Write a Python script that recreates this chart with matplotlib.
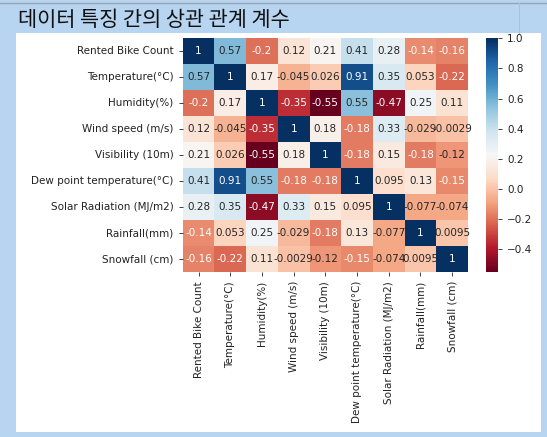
import numpy as np
import pandas as pd
import matplotlib
matplotlib.use("Agg")
import matplotlib.pyplot as plt
import matplotlib.patches as mpatches
from matplotlib.lines import Line2D
import seaborn as sns

# Feature names of the bike-sharing dataset
features = [
    "Rented Bike Count",
    "Temperature(°C)",
    "Humidity(%)",
    "Wind speed (m/s)",
    "Visibility (10m)",
    "Dew point temperature(°C)",
    "Solar Radiation (MJ/m2)",
    "Rainfall(mm)",
    "Snowfall (cm)",
]

# Pearson correlation coefficients, one row per feature
rented_bike_count = [1, 0.57, -0.2, 0.12, 0.21, 0.41, 0.28, -0.14, -0.16]
temperature = [0.57, 1, 0.17, -0.045, 0.026, 0.91, 0.35, 0.053, -0.22]
humidity = [-0.2, 0.17, 1, -0.35, -0.55, 0.55, -0.47, 0.25, 0.11]
wind_speed = [0.12, -0.045, -0.35, 1, 0.18, -0.18, 0.33, -0.029, -0.0029]
visibility = [0.21, 0.026, -0.55, 0.18, 1, -0.18, 0.15, -0.18, -0.12]
dew_point = [0.41, 0.91, 0.55, -0.18, -0.18, 1, 0.095, 0.13, -0.15]
solar_radiation = [0.28, 0.35, -0.47, 0.33, 0.15, 0.095, 1, -0.077, -0.074]
rainfall = [-0.14, 0.053, 0.25, -0.029, -0.18, 0.13, -0.077, 1, 0.0095]
snowfall = [-0.16, -0.22, 0.11, -0.0029, -0.12, -0.15, -0.074, 0.0095, 1]

title_text = "데이터 특징 간의 상관 관계 계수"

corr = pd.DataFrame(
    [rented_bike_count, temperature, humidity, wind_speed, visibility,
     dew_point, solar_radiation, rainfall, snowfall],
    index=features, columns=features,
)

W, H = 547, 437
panel_blue = "#b7d4f1"

fig = plt.figure(figsize=(W / 100, H / 100), dpi=100, facecolor=panel_blue)

# White content panel inside the blue frame (kept behind the axes)
fig.patches.append(mpatches.Rectangle(
    (16 / W, 1 - 432 / H), (541 - 16) / W, (432 - 33) / H,
    transform=fig.transFigure, facecolor="white", edgecolor="none", zorder=-5))
# Thin grey rule along the top and a faint divider in the title bar
fig.lines.append(Line2D([0, 1], [1 - 2.5 / H, 1 - 2.5 / H], transform=fig.transFigure,
                        color="#9aa4ae", linewidth=1.0, zorder=-4))
fig.lines.append(Line2D([519 / W, 519 / W], [1 - 3 / H, 1 - 33 / H], transform=fig.transFigure,
                        color="#a9c3dc", linewidth=0.8, zorder=-4))

fig.text(18 / W, 1 - 20 / H, title_text, fontsize=15, family=["Noto Sans CJK KR", "DejaVu Sans"],
         va="center", ha="left", color="#111111")

ax = fig.add_axes([182.7 / W, 1 - 272 / H, (468 - 182.7) / W, (272 - 38.3) / H])
cax = fig.add_axes([486 / W, 1 - 272 / H, 12 / W, (272 - 38.3) / H])

sns.heatmap(corr, annot=True, cmap="RdBu", ax=ax, cbar_ax=cax,
            annot_kws={"fontsize": 7.5})

ax.tick_params(axis="both", labelsize=7.5, colors="#222222", length=3, width=0.6)
ax.tick_params(axis="x", labelrotation=90)
ax.tick_params(axis="y", labelrotation=0)
cax.tick_params(labelsize=7.5, colors="#222222", length=3, width=0.6)
cax.set_yticks([1.0, 0.8, 0.6, 0.4, 0.2, 0.0, -0.2, -0.4])

fig.savefig("out.png", dpi=100, facecolor=panel_blue)
